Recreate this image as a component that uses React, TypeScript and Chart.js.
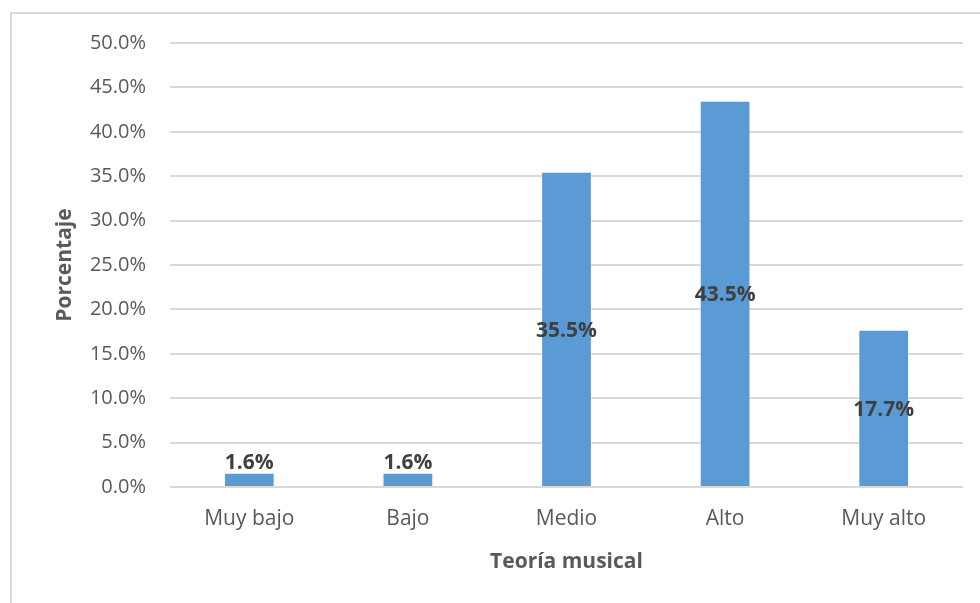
import React, { useEffect, useRef } from "react";
import { Chart, registerables } from "chart.js";

Chart.register(...registerables);

const categories = ["Muy bajo", "Bajo", "Medio", "Alto", "Muy alto"];
const percentages = [1.6, 1.6, 35.5, 43.5, 17.7];
const yTickMax = 50;
const yTickStep = 5;

const FONT = "'Open Sans', 'Noto Sans', sans-serif";
const BAR_COLOR = "#5B9BD5";
const GRID_COLOR = "#D9D9D9";
const TEXT_COLOR = "#595959";
const LABEL_COLOR = "#404040";

// Light frame along the left and top edges of the chart
const framePlugin = {
  id: "frame",
  beforeDraw(chart: Chart) {
    const ctx = chart.ctx;
    ctx.save();
    ctx.fillStyle = "#ffffff";
    ctx.fillRect(0, 0, chart.width, chart.height);
    ctx.strokeStyle = GRID_COLOR;
    ctx.lineWidth = 2;
    ctx.strokeRect(11, 13, chart.width + 20, chart.height + 20);
    ctx.restore();
  },
};

// Value labels centred in each bar; short bars get the label just above
const valueLabelPlugin = {
  id: "valueLabels",
  afterDatasetsDraw(chart: Chart) {
    const ctx = chart.ctx;
    const meta = chart.getDatasetMeta(0);
    ctx.save();
    ctx.font = `bold 21px ${FONT}`;
    ctx.fillStyle = LABEL_COLOR;
    ctx.textAlign = "center";
    ctx.textBaseline = "middle";
    meta.data.forEach((el: any, i: number) => {
      const v = percentages[i];
      const h = el.base - el.y;
      const y = h < 26 ? el.y - 10 : (el.y + el.base) / 2 + 2;
      ctx.fillText(v.toFixed(1) + "%", el.x, y);
    });
    ctx.restore();
  },
};

export default function App() {
  const canvasRef = useRef<HTMLCanvasElement | null>(null);

  useEffect(() => {
    if (!canvasRef.current) return;
    const chart = new Chart(canvasRef.current, {
      type: "bar",
      data: {
        labels: categories,
        datasets: [
          {
            data: percentages,
            backgroundColor: BAR_COLOR,
            borderColor: "rgba(255,255,255,0.35)",
            borderWidth: 1,
            categoryPercentage: 1,
            barPercentage: 0.32,
          },
        ],
      },
      options: {
        responsive: false,
        devicePixelRatio: 1,
        animation: false,
        layout: { padding: { top: 43, right: 17, bottom: 0, left: 0 } },
        plugins: {
          legend: { display: false },
          tooltip: { enabled: false },
        },
        scales: {
          x: {
            grid: { display: false },
            border: { display: false },
            ticks: {
              color: TEXT_COLOR,
              font: { family: FONT, size: 21 },
              padding: 11,
            },
            title: {
              display: true,
              text: "Teoría musical",
              color: TEXT_COLOR,
              font: { family: FONT, size: 21, weight: "bold" },
              padding: { top: 0, bottom: 28 },
            },
            afterFit(scale: any) {
              scale.height = 116;
            },
          },
          y: {
            min: 0,
            max: yTickMax,
            grid: { color: GRID_COLOR, lineWidth: 2, drawTicks: false },
            border: { display: false },
            ticks: {
              stepSize: yTickStep,
              color: TEXT_COLOR,
              font: { family: FONT, size: 20 },
              padding: 24,
              callback: (v: any) => Number(v).toFixed(1) + "%",
            },
            title: {
              display: true,
              text: "Porcentaje",
              color: TEXT_COLOR,
              font: { family: FONT, size: 21, weight: "bold" },
              padding: { top: 52, bottom: 0 },
            },
            afterFit(scale: any) {
              scale.width = 170;
            },
          },
        },
      },
      plugins: [framePlugin, valueLabelPlugin],
    });
    return () => chart.destroy();
  }, []);

  return (
    <div style={{ position: "fixed", left: 0, top: 0, width: 980, height: 603, background: "#fff" }}>
      <canvas ref={canvasRef} width={980} height={603} />
    </div>
  );
}
